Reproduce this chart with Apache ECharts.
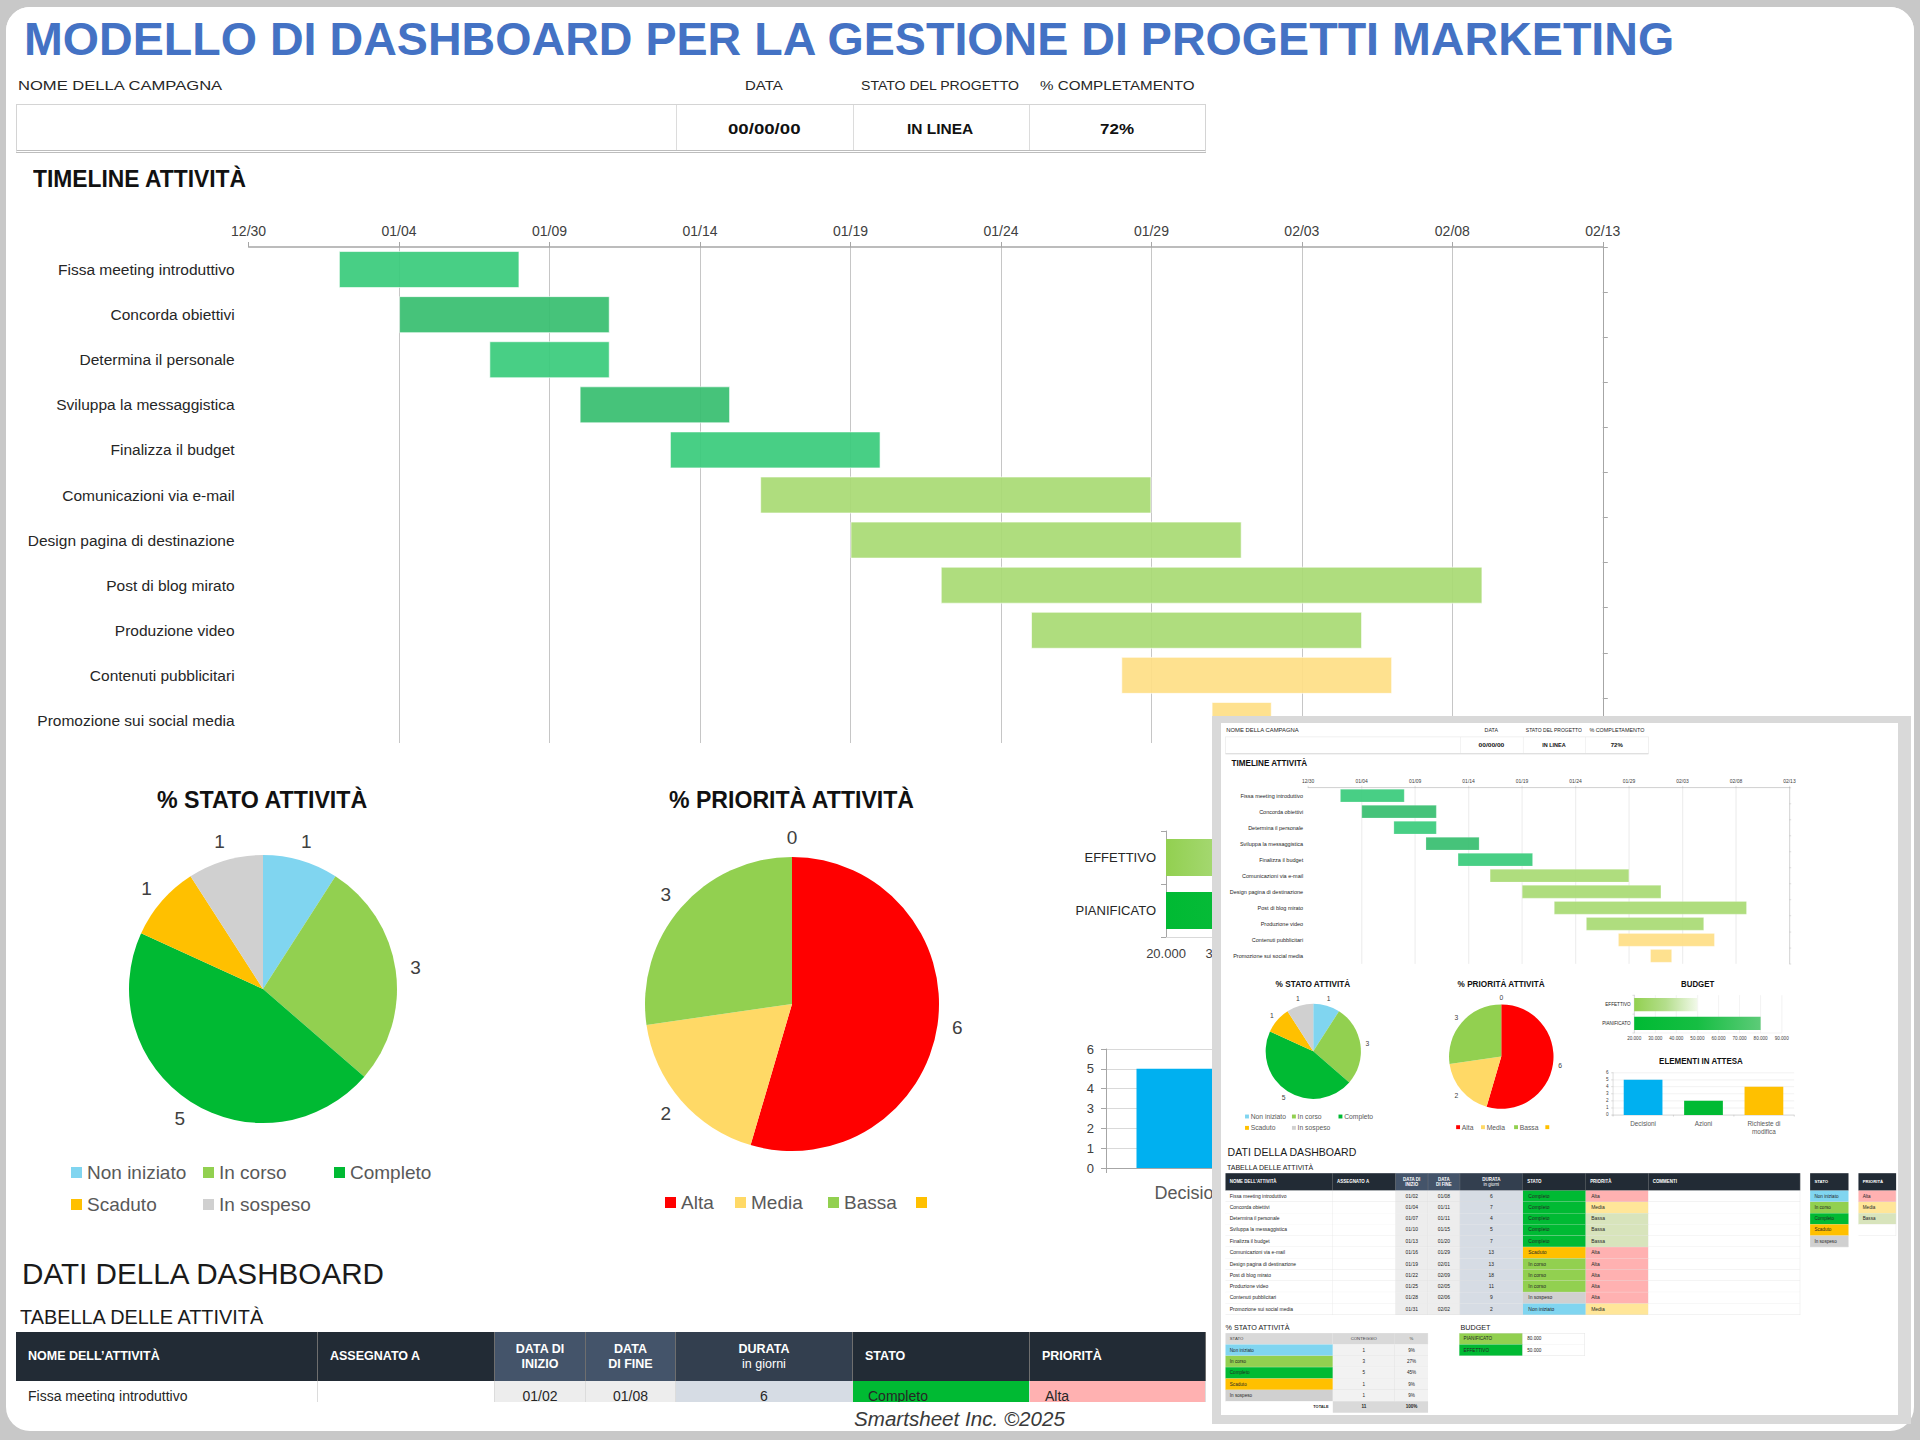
<!DOCTYPE html>
<html lang="it"><head><meta charset="utf-8"><title>Dashboard progetti marketing</title>
<script src="https://cdn.jsdelivr.net/npm/echarts@6.0.0/dist/echarts.min.js"></script>
<style>
html,body{margin:0;padding:0;}
body{width:1920px;height:1440px;background:#c8c8c8;position:relative;overflow:hidden;font-family:"Liberation Sans",Arial,sans-serif;}
#frame{position:absolute;left:6px;top:7px;width:1908px;height:1424px;background:#fff;border-radius:24px;}
#mainClip{position:absolute;left:6px;top:7px;width:1908px;height:1395px;overflow:hidden;border-radius:24px 24px 0 0;}
.dash{position:absolute;left:0;top:0;width:1920px;height:2020px;background:#fff;}
#mainClip .dash{left:-6px;top:-7px;}
#insetOuter{position:absolute;left:1212px;top:716px;width:699px;height:708px;background:#d9d9d9;}
#insetClip{position:absolute;left:9px;top:7px;width:677px;height:692px;overflow:hidden;background:#fff;}
#insetClip .dash{transform-origin:0 0;transform:translate(-1.2px,-23.2px) scale(0.3554);}
</style></head>
<body>
<div id="frame"></div>
<div id="mainClip"></div>
<div id="insetOuter"><div id="insetClip"></div></div>
<script>
const FONT='"Liberation Sans", Arial, sans-serif';

// ---------- DATA ----------
const titleText='MODELLO DI DASHBOARD PER LA GESTIONE DI PROGETTI MARKETING';
const headerLabels=['NOME DELLA CAMPAGNA','DATA','STATO DEL PROGETTO','% COMPLETAMENTO'];
const headerValues=['','00/00/00','IN LINEA','72%'];
const taskNames=['Fissa meeting introduttivo','Concorda obiettivi','Determina il personale','Sviluppa la messaggistica','Finalizza il budget','Comunicazioni via e-mail','Design pagina di destinazione','Post di blog mirato','Produzione video','Contenuti pubblicitari','Promozione sui social media'];
const taskStarts=['01/02','01/04','01/07','01/10','01/13','01/16','01/19','01/22','01/25','01/28','01/31'];
const taskEnds=['01/08','01/11','01/11','01/15','01/20','01/29','02/01','02/09','02/05','02/06','02/02'];
const taskStatus=['Completo','Completo','Completo','Completo','Completo','Scaduto','In corso','In corso','In corso','In sospeso','Non iniziato'];
const taskPriority=['Alta','Media','Bassa','Bassa','Bassa','Alta','Alta','Alta','Alta','Alta','Media'];
const ganttTicks=['12/30','01/04','01/09','01/14','01/19','01/24','01/29','02/03','02/08','02/13'];
const statusNames=['Non iniziato','In corso','Completo','Scaduto','In sospeso'];
const statusCounts=[1,3,5,1,1];
const priorityNames=['Alta','Media','Bassa',' '];
const priorityCounts=[6,2,3,0];
const budgetCats=['PIANIFICATO','EFFETTIVO'];
const budgetValues=[80000,50000];
const budgetTicks=['20.000','30.000','40.000','50.000','60.000','70.000','80.000','90.000'];
const pendingCats=['Decisioni','Azioni','Richieste di modifica'];
const pendingValues=[5,2,4];
const tableHeaders=[['NOME DELL’ATTIVITÀ'],['ASSEGNATO A'],['DATA DI','INIZIO'],['DATA','DI FINE'],['DURATA','in giorni'],['STATO'],['PRIORITÀ'],['COMMENTI']];
const statoTableHeaders=['STATO','CONTEGGIO','%'];
const totalLabel='TOTALE';

// ---------- STYLES ----------
const ganttColors=['#3ACB7C','#38BE70','#3ACB7C','#38BE70','#3ACB7C','#A9DA74','#A9DA74','#A9DA74','#A9DA74','#FEDF86','#FEDF86'];
const statusColors=['#80D5F0','#92D050','#00BA33','#FFC000','#D0D0D0'];
const priorityColors=['#FF0000','#FFD966','#92D050','#FFC000'];
const priorityBg={'Alta':'#FFB1B1','Media':'#FFE699','Bassa':'#D8E4BC'};
const pendingColors=['#00B0F0','#00BA33','#FFC000'];

function dayIndex(md){
  const [m,d]=md.split('/').map(Number);
  const [om,od]=ganttTicks[0].split('/').map(Number);
  const y=m<om?2025:2024;
  return Math.round((Date.UTC(y,m-1,d)-Date.UTC(2024,om-1,od))/864e5);
}
const statusColorOf=n=>statusColors[statusNames.indexOf(n)];
const fmtThousands=v=>String(v).replace(/\B(?=(\d{3})+(?!\d))/g,'.');

// centres each outside pie label on its slice's middle direction, a fixed gap beyond the rim
function pieLabelLayout(cx,cy,r,gap,values){
  const total=values.reduce((a,b)=>a+b,0);
  return p=>{
    let before=0;for(let i=0;i<p.dataIndex;i++)before+=values[i];
    const a=(before+values[p.dataIndex]/2)/total*2*Math.PI;
    return {x:cx+Math.sin(a)*(r+gap),y:cy-Math.cos(a)*(r+gap),align:'center',verticalAlign:'middle'};
  };
}

function makeOption(mainMode){
  const starts=taskStarts.map(dayIndex),ends=taskEnds.map(dayIndex);
  const gInt=dayIndex(ganttTicks[1])-dayIndex(ganttTicks[0]);
  const gMax=dayIndex(ganttTicks[ganttTicks.length-1]);
  const num=s=>Number(s.replace('.',''));
  const bMin=num(budgetTicks[0]),bMax=num(budgetTicks[budgetTicks.length-1]);
  const bInt=num(budgetTicks[1])-bMin;
  const grad=(stops)=>new echarts.graphic.LinearGradient(0,0,1,0,stops.map((c,i)=>({offset:i/(stops.length-1),color:c})));
  const budgetGrads=[grad(['#00BA33','#16BE43','#5DCB78']),grad(['#92D050','#B4DE8C','#F2F9EA'])];
  const legendPos=[
    ['Non iniziato',71,1174],['In corso',203,1174],['Completo',334,1174],['Scaduto',71,1206],['In sospeso',203,1206],
    ['Alta',665,1204],['Media',735,1204],['Bassa',828,1204],[' ',916,1204]
  ];
  const axisGrey='#a6a6a6';
  // in the full-size view the right part of these two charts lies under the inset picture
  const budgetLabel=v=>{const i=Math.round((v-bMin)/bInt);return (mainMode&&i>1)?'':budgetTicks[i];};
  const pendingLabel=(s,i)=>{if(mainMode&&i>0)return '';return s.length>12?s.replace(/ (\S+)$/,'\n$1'):s;};
  return {
    animation:false,
    textStyle:{fontFamily:FONT},
    grid:[
      {left:248.6,top:247,width:1354.2,height:496},
      {left:1166,top:831,width:415,height:106},
      {left:1106,top:1049,width:510,height:119}
    ],
    legend:legendPos.map(([n,x,y])=>({data:[n],left:x,top:y-11,icon:'rect',itemWidth:11,itemHeight:11,itemGap:0,padding:0,selectedMode:false,textStyle:{fontSize:19,color:'#595959',fontFamily:FONT}})),
    xAxis:[
      {gridIndex:0,type:'value',position:'top',min:0,max:gMax,interval:gInt,
        axisLine:{show:true,lineStyle:{color:axisGrey,width:1.5}},
        axisTick:{show:true,length:5,lineStyle:{color:axisGrey}},
        axisLabel:{color:'#404040',fontSize:14,margin:9,formatter:v=>ganttTicks[Math.round(v/gInt)]},
        splitLine:{show:true,showMinLine:false,lineStyle:{color:'#c6c6c6',width:1}}},
      {gridIndex:1,type:'value',min:bMin,max:bMax,interval:bInt,
        axisLine:{show:true,lineStyle:{color:'#d9d9d9'}},axisTick:{show:false},
        axisLabel:{color:'#404040',fontSize:13,margin:10,formatter:budgetLabel},
        splitLine:{show:true,lineStyle:{color:'#dcdcdc'}}},
      {gridIndex:2,type:'category',data:pendingCats,
        axisLine:{show:true,lineStyle:{color:axisGrey}},axisTick:{show:true,length:5,lineStyle:{color:axisGrey}},
        axisLabel:{color:'#595959',fontSize:18,margin:14,lineHeight:22,formatter:pendingLabel},
        splitLine:{show:false}}
    ],
    yAxis:[
      {gridIndex:0,type:'category',data:taskNames,inverse:true,axisLine:{show:false},axisTick:{show:false},
        axisLabel:{color:'#262626',fontSize:15.5,margin:14},splitLine:{show:false}},
      {gridIndex:0,type:'category',data:taskNames,inverse:true,position:'right',
        axisLine:{show:true,lineStyle:{color:axisGrey}},axisTick:{show:true,length:5,lineStyle:{color:axisGrey}},
        axisLabel:{show:false},splitLine:{show:false}},
      {gridIndex:1,type:'category',data:budgetCats,
        axisLine:{show:true,lineStyle:{color:axisGrey}},axisTick:{show:true,length:5,lineStyle:{color:axisGrey}},
        axisLabel:{color:'#262626',fontSize:13,margin:10},splitLine:{show:false}},
      {gridIndex:2,type:'value',min:0,max:6,interval:1,
        axisLine:{show:true,lineStyle:{color:axisGrey}},axisTick:{show:true,length:5,lineStyle:{color:axisGrey}},
        axisLabel:{color:'#404040',fontSize:13,margin:12},splitLine:{show:true,lineStyle:{color:'#d9d9d9'}}}
    ],
    series:[
      {type:'bar',name:'inizio',xAxisIndex:0,yAxisIndex:0,stack:'g',barWidth:37,silent:true,
        itemStyle:{color:'transparent'},data:starts},
      {type:'bar',name:'durata',xAxisIndex:0,yAxisIndex:0,stack:'g',barWidth:37,silent:true,
        itemStyle:{opacity:0.93,borderColor:'rgba(255,255,255,0.65)',borderWidth:1},
        data:ends.map((e,i)=>({value:e-starts[i],itemStyle:{color:ganttColors[i]}}))},
      {type:'pie',name:'stato',center:[263,989],radius:134,startAngle:90,clockwise:true,avoidLabelOverlap:false,silent:true,
        data:statusNames.map((n,i)=>({name:n,value:statusCounts[i],itemStyle:{color:statusColors[i]}})),
        label:{show:true,position:'outside',formatter:'{c}',fontSize:19,color:'#404040'},
        labelLine:{show:false,length:6,length2:4},labelLayout:pieLabelLayout(263,989,134,20,statusCounts),itemStyle:{borderWidth:0}},
      {type:'pie',name:'priorita',center:[792,1004],radius:147,startAngle:90,clockwise:true,avoidLabelOverlap:false,silent:true,
        data:priorityNames.map((n,i)=>({name:n,value:priorityCounts[i],itemStyle:{color:priorityColors[i]}})),
        label:{show:true,position:'outside',formatter:'{c}',fontSize:19,color:'#404040'},
        labelLine:{show:false,length:6,length2:4},labelLayout:pieLabelLayout(792,1004,147,20,priorityCounts),itemStyle:{borderWidth:0}},
      {type:'bar',name:'budget',xAxisIndex:1,yAxisIndex:2,barWidth:37,silent:true,
        data:budgetValues.map((v,i)=>({value:v,itemStyle:{color:budgetGrads[i]}}))},
      {type:'bar',name:'attesa',xAxisIndex:2,yAxisIndex:3,barWidth:109,silent:true,
        data:pendingValues.map((v,i)=>({value:v,itemStyle:{color:pendingColors[i]}}))}
    ]
  };
}

// ---------- HTML helpers ----------
function T(p,o){
  const e=document.createElement('div');
  e.textContent=o.text;
  const s=e.style;
  s.position='absolute';s.whiteSpace='nowrap';s.lineHeight='1.2';
  s.fontFamily=o.family||FONT;s.fontSize=o.size+'px';s.fontWeight=o.weight||'normal';
  s.fontStyle=o.italic?'italic':'normal';s.color=o.color||'#262626';
  p.appendChild(e);
  const w=e.offsetWidth,h=e.offsetHeight;
  const sx=o.fitW?o.fitW/w:1;
  const vw=w*sx,a=o.anchor||'l';
  s.left=(a==='l'?o.x:a==='c'?o.x-vw/2:o.x-vw)+'px';
  s.top=(o.y-h/2)+'px';
  if(sx!==1){s.transformOrigin='0 0';s.transform='scaleX('+sx.toFixed(4)+')';}
  return e;
}
function B(p,x,y,w,h,css,html){
  const e=document.createElement('div');
  e.style.cssText=`position:absolute;left:${x}px;top:${y}px;width:${w}px;height:${h}px;box-sizing:border-box;`+(css||'');
  if(html!=null)e.innerHTML=html;
  p.appendChild(e);return e;
}
function esc(t){return String(t).replace(/&/g,'&amp;').replace(/</g,'&lt;');}
function cell(p,x,y,w,h,o){
  const jc=o.align==='c'?'center':o.align==='r'?'flex-end':'flex-start';
  const css=`display:flex;align-items:center;justify-content:${jc};padding:0 ${o.pad==null?12:o.pad}px;background:${o.bg||'#fff'};font-family:${FONT};font-size:${o.size||14}px;color:${o.color||'#262626'};font-weight:${o.weight||'normal'};white-space:nowrap;overflow:hidden;line-height:1.2;`+(o.css||'');
  const inner=(o.html==null||o.html==='')?'':'<span style="text-align:'+(o.align==='c'?'center':'left')+'">'+o.html+'</span>';
  return B(p,x,y,w,h,css,inner);
}

function buildDash(host,mainMode){
  const d=document.createElement('div');d.className='dash';host.appendChild(d);
  const cd=document.createElement('div');
  cd.style.cssText='position:absolute;left:0;top:0;width:1920px;height:2020px;';
  d.appendChild(cd);
  const chart=echarts.init(cd,null,{renderer:'svg',width:1920,height:2020});
  chart.setOption(makeOption(mainMode));

  // Title (the small picture starts below it)
  if(mainMode)T(d,{x:24,y:39,text:titleText,size:47,weight:'bold',color:'#4472C4',fitW:1650});
  // Header labels
  const hl=[[18,'l',204],[764,'c',38],[940,'c',158],[1117,'c',154]];
  headerLabels.forEach((t,i)=>T(d,{x:hl[i][0],y:86,text:t,size:13,color:'#262626',anchor:hl[i][1],fitW:hl[i][2]}));
  B(d,16,104,1190,49,'border:1px solid #d4d4d4;border-bottom:3px double #bdbdbd;');
  [676,853,1029].forEach(x=>B(d,x,105,1,45,'background:#dcdcdc;'));
  const hv=[[0,0],[764,72],[940,66],[1117,34]];
  headerValues.forEach((t,i)=>{if(t)T(d,{x:hv[i][0],y:129,text:t,size:15,weight:'bold',color:'#111',anchor:'c',fitW:hv[i][1]});});

  // Section titles
  T(d,{x:33,y:179,text:'TIMELINE ATTIVITÀ',size:24,weight:'bold',color:'#111',fitW:213});
  T(d,{x:262,y:801,text:'% STATO ATTIVITÀ',size:23,weight:'bold',color:'#111',anchor:'c',fitW:210});
  T(d,{x:791,y:801,text:'% PRIORITÀ ATTIVITÀ',size:23,weight:'bold',color:'#111',anchor:'c',fitW:245});
  if(!mainMode){
    T(d,{x:1344,y:802,text:'BUDGET',size:23,weight:'bold',color:'#111',anchor:'c',fitW:93});
    T(d,{x:1354,y:1018,text:'ELEMENTI IN ATTESA',size:23,weight:'bold',color:'#111',anchor:'c',fitW:236});
  }
  T(d,{x:22,y:1274,text:'DATI DELLA DASHBOARD',size:29,color:'#1a1a1a',fitW:362});
  T(d,{x:20,y:1316,text:'TABELLA DELLE ATTIVITÀ',size:21,color:'#1a1a1a',fitW:243});

  // Main task table
  const colW=[302,177,91,90,177,177,176,427];
  const nCols=mainMode?7:8;
  const hdrBg=['#222B35','#222B35','#44546A','#44546A','#333F4F','#222B35','#222B35','#222B35'];
  const hdrAlign=['l','l','c','c','c','l','l','l'];
  let x=16;
  tableHeaders.slice(0,nCols).forEach((h,i)=>{
    const html=h.map((ln,k)=>(i===4&&k===1)?'<span style="font-weight:normal">'+esc(ln)+'</span>':esc(ln)).join('<br>');
    cell(d,x,1332,colW[i],49,{bg:hdrBg[i],html,align:hdrAlign[i],color:'#fff',weight:'bold',size:12.5,pad:hdrAlign[i]==='c'?4:12,css:'border-right:1px solid #6e6e6e;'});
    x+=colW[i];
  });
  const rowH=31.8,rowTop=1381;
  const starts=taskStarts.map(dayIndex),ends=taskEnds.map(dayIndex);
  const nRows=mainMode?1:taskNames.length;
  taskNames.slice(0,nRows).forEach((n,r)=>{
    const y=rowTop+r*rowH;
    const vals=[n,'',taskStarts[r],taskEnds[r],String(ends[r]-starts[r]),taskStatus[r],taskPriority[r],''];
    const bgs=['#fff','#fff','#EDEDED','#EDEDED','#D6DCE4',statusColorOf(taskStatus[r]),priorityBg[taskPriority[r]],'#fff'];
    let cx=16;
    vals.slice(0,nCols).forEach((v,i)=>{
      cell(d,cx,y,colW[i],rowH,{bg:bgs[i],html:esc(v),align:(i>=2&&i<=4)?'c':'l',pad:i===0?12:15,size:14,css:'border-right:1px solid #dcdcdc;border-bottom:1px solid #dcdcdc;'});
      cx+=colW[i];
    });
  });
  if(mainMode)return chart;

  // Side lists
  cell(d,1661,1332,108,49,{bg:'#222B35',html:'STATO',color:'#fff',weight:'bold',size:12});
  statusNames.forEach((n,i)=>cell(d,1661,rowTop+i*rowH,108,rowH,{bg:statusColors[i],html:esc(n),size:13,css:'border-bottom:1px solid #e6e6e6;'}));
  cell(d,1797,1332,106,49,{bg:'#222B35',html:'PRIORITÀ',color:'#fff',weight:'bold',size:12});
  ['Alta','Media','Bassa',''].forEach((n,i)=>cell(d,1797,rowTop+i*rowH,106,rowH,{bg:n?priorityBg[n]:'#fff',html:esc(n),size:13,css:'border-bottom:1px solid #e0e0e0;border-right:1px solid #e0e0e0;'}));

  // % STATO ATTIVITÀ data table
  T(d,{x:16,y:1765,text:'% STATO ATTIVITÀ',size:21,color:'#1a1a1a',fitW:180});
  const sw=[302,175,93],sx=[16,318,493];
  statoTableHeaders.forEach((h,i)=>cell(d,sx[i],1782,sw[i],32,{bg:'#D9D9D9',html:esc(h),align:i?'c':'l',size:12,color:'#404040',css:'border-right:1px solid #e8e8e8;'}));
  const tot=statusCounts.reduce((a,b)=>a+b,0);
  statusNames.forEach((n,r)=>{
    const y=1814+r*32;
    cell(d,sx[0],y,sw[0],32,{bg:statusColors[r],html:esc(n),size:13,css:'border-bottom:1px solid #e6e6e6;'});
    cell(d,sx[1],y,sw[1],32,{bg:'#F2F2F2',html:String(statusCounts[r]),align:'c',size:13,css:'border-bottom:1px solid #dcdcdc;border-right:1px solid #dcdcdc;'});
    cell(d,sx[2],y,sw[2],32,{bg:'#F2F2F2',html:Math.round(statusCounts[r]/tot*100)+'%',align:'c',size:13,css:'border-bottom:1px solid #dcdcdc;'});
  });
  cell(d,sx[0],1974,sw[0],32,{bg:'#fff',html:totalLabel,align:'r',size:11,weight:'bold'});
  cell(d,sx[1],1974,sw[1],32,{bg:'#D9D9D9',html:String(tot),align:'c',size:13,weight:'bold'});
  cell(d,sx[2],1974,sw[2],32,{bg:'#D9D9D9',html:'100%',align:'c',size:13,weight:'bold'});

  // BUDGET data table
  T(d,{x:677,y:1765,text:'BUDGET',size:21,color:'#1a1a1a',fitW:85});
  const bBg=['#92D050','#00BA33'];
  budgetCats.forEach((n,r)=>{
    const y=1782+r*32;
    cell(d,674,y,178,32,{bg:bBg[r],html:esc(n),size:13,css:'border-bottom:1px solid #e6e6e6;'});
    cell(d,852,y,175,32,{bg:'#fff',html:fmtThousands(budgetValues[r]),size:13,css:'border:1px solid #d6d6d6;border-top:none;'});
  });
  B(d,674,1782,353,64,'border-top:1px solid #d6d6d6;');
  return chart;
}

buildDash(document.getElementById('mainClip'),true);
buildDash(document.getElementById('insetClip'),false);
T(document.body,{x:959,y:1419,text:'Smartsheet Inc. ©2025',size:20,italic:true,color:'#3a3a3a',anchor:'c',fitW:211});
</script>
</body></html>
